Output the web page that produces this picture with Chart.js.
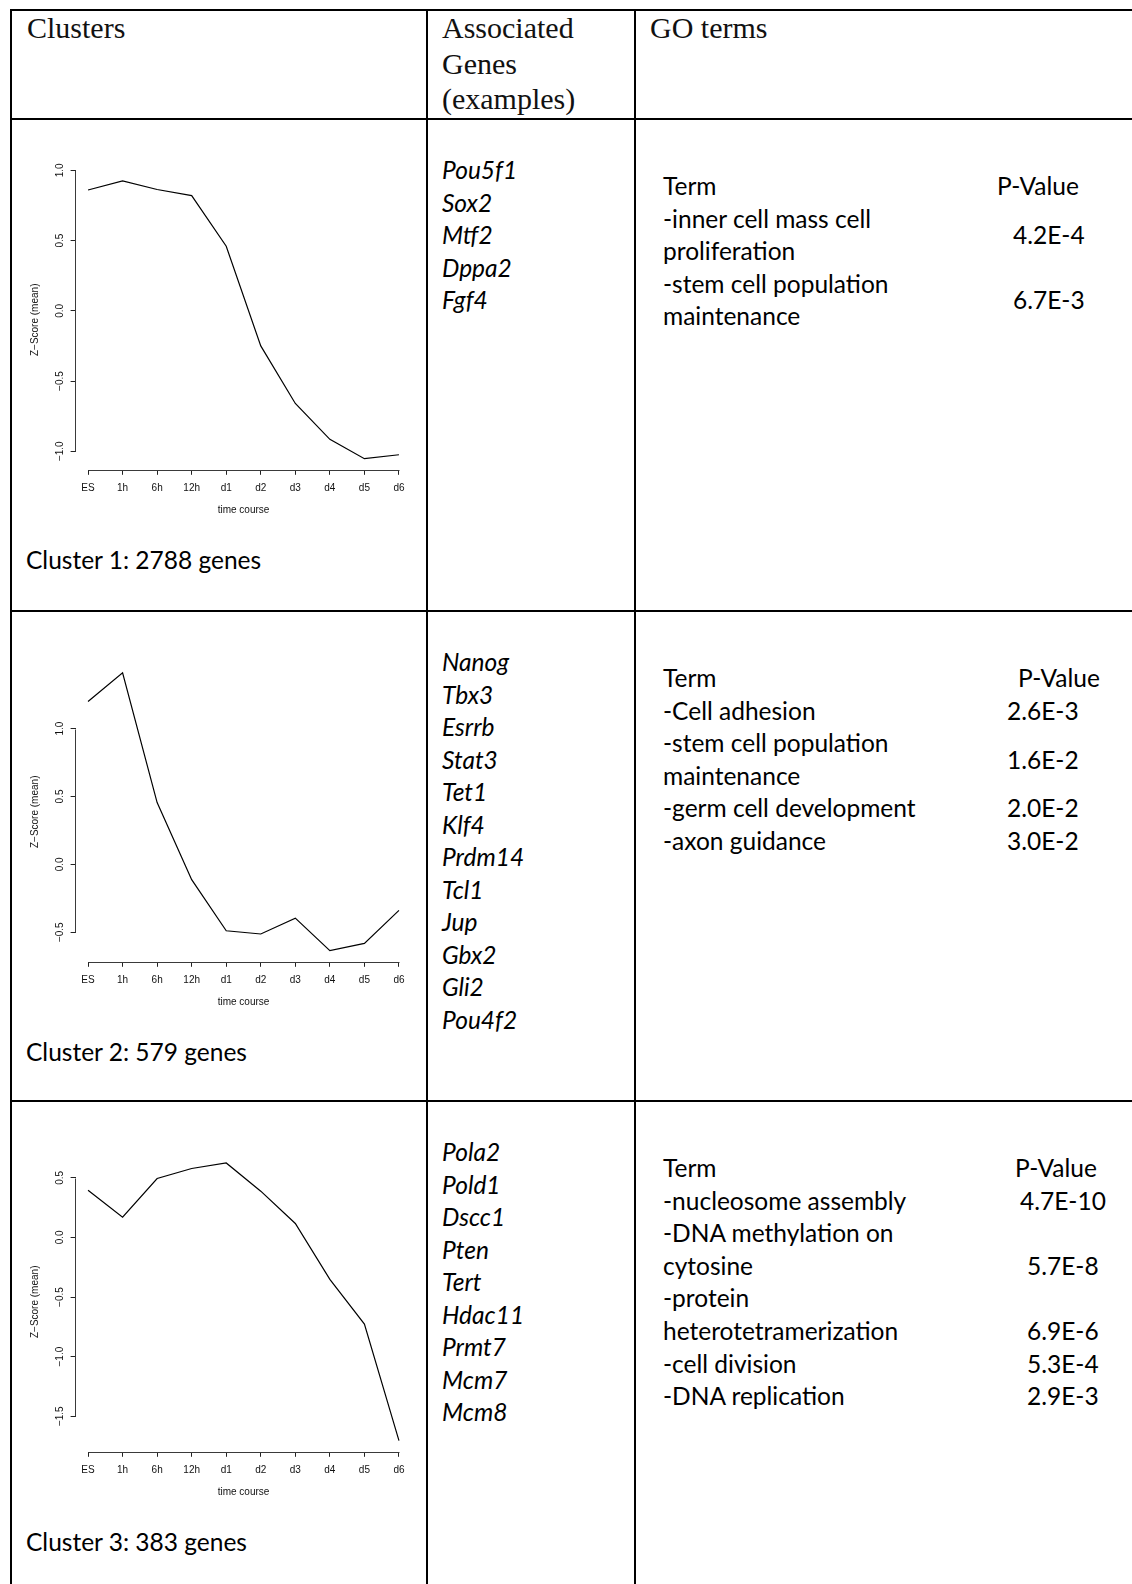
<!DOCTYPE html>
<html><head><meta charset="utf-8">
<script src="https://cdn.jsdelivr.net/npm/chart.js@4.4.1/dist/chart.umd.min.js"></script>
<style>
html,body{margin:0;padding:0;background:#fff;}
body{width:1132px;height:1584px;position:relative;overflow:hidden;}
.ln{position:absolute;background:#000;}
.t{position:absolute;white-space:nowrap;}
.hdr{font-family:'Liberation Serif','DejaVu Serif',serif;font-size:30px;color:#111;}
.bd{font-family:Lato,'Noto Sans',sans-serif;font-size:24.5px;color:#000;}
.it{font-style:italic;}
canvas{position:absolute;}
</style></head><body>
<script>
// ---------- data ----------
const timePoints = ['ES','1h','6h','12h','d1','d2','d3','d4','d5','d6'];
const cluster1 = [0.86, 0.925, 0.864, 0.82, 0.46, -0.25, -0.66, -0.915, -1.053, -1.025];
const cluster2 = [1.20, 1.41, 0.455, -0.113, -0.489, -0.513, -0.396, -0.636, -0.582, -0.339];
const cluster3 = [0.396, 0.17, 0.494, 0.578, 0.625, 0.388, 0.117, -0.352, -0.727, -1.705];
const yTicks1 = [-1.0, -0.5, 0.0, 0.5, 1.0];
const yTicks2 = [-0.5, 0.0, 0.5, 1.0];
const yTicks3 = [-1.5, -1.0, -0.5, 0.0, 0.5];
const xTitle = 'time course';
const yTitle = 'Z\u2212Score (mean)';
const headers = [['Clusters'], ['Associated','Genes','(examples)'], ['GO terms']];
const clusterLabels = ['Cluster 1: 2788 genes','Cluster 2: 579 genes','Cluster 3: 383 genes'];
const genes1 = ['Pou5f1','Sox2','Mtf2','Dppa2','Fgf4'];
const genes2 = ['Nanog','Tbx3','Esrrb','Stat3','Tet1','Klf4','Prdm14','Tcl1','Jup','Gbx2','Gli2','Pou4f2'];
const genes3 = ['Pola2','Pold1','Dscc1','Pten','Tert','Hdac11','Prmt7','Mcm7','Mcm8'];
const goTerms1 = [['-inner cell mass cell','proliferation'],['-stem cell population','maintenance']];
const goP1 = ['4.2E-4','6.7E-3'];
const goTerms2 = [['-Cell adhesion'],['-stem cell population','maintenance'],['-germ cell development'],['-axon guidance']];
const goP2 = ['2.6E-3','1.6E-2','2.0E-2','3.0E-2'];
const goTerms3 = [['-nucleosome assembly'],['-DNA methylation on','cytosine'],['-protein','heterotetramerization'],['-cell division'],['-DNA replication']];
const goP3 = ['4.7E-10','5.7E-8','6.9E-6','5.3E-4','2.9E-3'];

// ---------- layout ----------
const rowTops = [119, 611, 1101];
const pAlign = ['middle','middle','bottom'];
const pHeadX = [997, 1018, 1015];
const pValX = [[1013,1013],[1007,1007,1007,1007],[1020,1027,1027,1027,1027]];

function line(x,y,w,h){const d=document.createElement('div');d.className='ln';d.style.cssText=`left:${x}px;top:${y}px;width:${w}px;height:${h}px`;document.body.appendChild(d);}
function txt(cls,s,x,cy,lh){const d=document.createElement('div');d.className='t '+cls;d.textContent=s;d.style.cssText=`left:${x}px;top:${cy-lh/2}px;height:${lh}px;line-height:${lh}px`;document.body.appendChild(d);}

line(10,9,1122,2); line(10,118,1122,2); line(10,610,1122,2); line(10,1100,1122,2);
line(10,9,2,1575); line(426,9,2,1575); line(634,9,2,1575);

const hx=[27,442,650];
headers.forEach((h,c)=>h.forEach((s,i)=>txt('hdr',s,hx[c],28+i*35.5,36)));

const genes=[genes1,genes2,genes3];
const terms=[goTerms1,goTerms2,goTerms3];
const pvals=[goP1,goP2,goP3];
const LS=32.6;
rowTops.forEach((rt,r)=>{
  genes[r].forEach((g,i)=>txt('bd it',g,442,rt+51+i*32.5,32));
  txt('bd',clusterLabels[r],26,rt+441,32);
  txt('bd','Term',663,rt+67,32);
  txt('bd','P-Value',pHeadX[r],rt+67,32);
  let k=1;
  terms[r].forEach((tl,j)=>{
    const start=k;
    tl.forEach(s=>{txt('bd',s,663,rt+67+k*LS,32);k++;});
    const end=k-1;
    const idx = pAlign[r]==='middle' ? (start+end)/2 : end;
    txt('bd',pvals[r][j],pValX[r][j],rt+67+idx*LS,32);
  });
});

// ---------- charts ----------
const series=[cluster1,cluster2,cluster3];
const yTicks=[yTicks1,yTicks2,yTicks3];
const fmt=v=>(v<0?'\u2212':'')+Math.abs(v).toFixed(1);
const axisLines={id:'axisLines',afterDraw(chart,args,opts){
  const {ctx,chartArea:a,scales:{x,y}}=chart;
  const xt=opts.xt, yt=opts.yt;
  ctx.save();ctx.strokeStyle='#3a3a3a';ctx.lineWidth=1;
  const b=Math.round(a.bottom)+0.5, l=Math.round(a.left)-0.5;
  ctx.beginPath();
  ctx.moveTo(Math.round(x.getPixelForValue(xt[0]))+0.5,b);
  ctx.lineTo(Math.round(x.getPixelForValue(xt[xt.length-1]))+0.5,b);
  ctx.moveTo(l,Math.round(y.getPixelForValue(yt[0]))+0.5);
  ctx.lineTo(l,Math.round(y.getPixelForValue(yt[yt.length-1]))+0.5);
  ctx.stroke();ctx.restore();
}};
const W=414,H=410;
series.forEach((vals,r)=>{
  const cv=document.createElement('canvas');
  cv.width=W;cv.height=H;cv.style.cssText=`left:12px;top:${rowTops[r]+2}px;width:${W}px;height:${H}px`;
  document.body.appendChild(cv);
  const lo=Math.min(...vals),hi=Math.max(...vals),pad=(hi-lo)*0.04;
  const xPad=(timePoints.length-1)*0.04;
  const xt=timePoints.map((_,i)=>i), yt=yTicks[r];
  const font={family:"'Liberation Sans', Arial, sans-serif",size:10};
  new Chart(cv,{
    type:'line',
    data:{datasets:[{data:vals.map((v,i)=>({x:i,y:v})),borderColor:'#000',borderWidth:1.2,pointRadius:0,tension:0,fill:false}]},
    options:{
      responsive:false,animation:false,devicePixelRatio:1,
      layout:{padding:{left:0,right:14.6,top:48.8,bottom:0}},
      plugins:{legend:{display:false},tooltip:{enabled:false},axisLines:{xt,yt}},
      scales:{
        x:{type:'linear',position:'bottom',min:-xPad,max:timePoints.length-1+xPad,
          afterBuildTicks:s=>{s.ticks=xt.map(v=>({value:v}));},
          afterFit:s=>{s.height=61.2;},
          ticks:{callback:v=>timePoints[v],font,color:'#111',padding:7.3,maxRotation:0,autoSkip:false},
          grid:{drawOnChartArea:false,drawTicks:true,tickLength:5,color:'#222',lineWidth:1},
          border:{display:false},
          title:{display:true,text:xTitle,font,color:'#111',padding:{top:0,bottom:15}}},
        y:{type:'linear',position:'left',min:lo-pad,max:hi+pad,
          afterBuildTicks:s=>{s.ticks=yt.map(v=>({value:v}));},
          afterFit:s=>{s.width=63.6;},
          ticks:{callback:v=>fmt(v),font,color:'#111',padding:0.7,minRotation:90,maxRotation:90,crossAlign:'center',autoSkip:false},
          grid:{drawOnChartArea:false,drawTicks:true,tickLength:5,color:'#222',lineWidth:1},
          border:{display:false},
          title:{display:true,text:yTitle,font,color:'#111',padding:{top:17,bottom:0}}}
      }
    },
    plugins:[axisLines]
  });
});
</script>
</body></html>
